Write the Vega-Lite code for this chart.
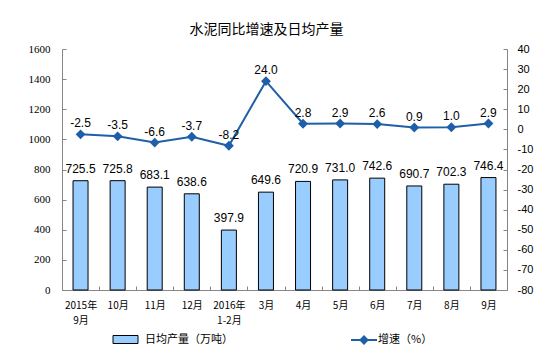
{
  "$schema": "https://vega.github.io/schema/vega-lite/v6.json",
  "autosize": "none",
  "width": 445,
  "height": 241,
  "padding": {"left": 62, "top": 49, "right": 42, "bottom": 73},
  "background": "white",
  "title": {"text": "水泥同比增速及日均产量", "font": "Noto Sans CJK SC", "fontSize": 14, "fontWeight": "normal", "color": "#000000", "anchor": "middle", "dx": -18, "offset": 6},
  "config": {"view": {"stroke": null}, "legend": {"padding": 0}},
  "data": {"values": [
    {"month": "2015年|9月", "production": 725.5, "growth": -2.5},
    {"month": "10月", "production": 725.8, "growth": -3.5},
    {"month": "11月", "production": 683.1, "growth": -6.6},
    {"month": "12月", "production": 638.6, "growth": -3.7},
    {"month": "2016年|1-2月", "production": 397.9, "growth": -8.2},
    {"month": "3月", "production": 649.6, "growth": 24.0},
    {"month": "4月", "production": 720.9, "growth": 2.8},
    {"month": "5月", "production": 731.0, "growth": 2.9},
    {"month": "6月", "production": 742.6, "growth": 2.6},
    {"month": "7月", "production": 690.7, "growth": 0.9},
    {"month": "8月", "production": 702.3, "growth": 1.0},
    {"month": "9月", "production": 746.4, "growth": 2.9}
  ]},
  "encoding": {
    "x": {"field": "month", "type": "nominal", "sort": null,
      "scale": {"paddingInner": 0, "paddingOuter": 0},
      "axis": {"title": null, "labelAngle": 0, "labelExpr": "split(datum.label, '|')", "labelFont": "Noto Sans CJK SC", "labelFontSize": 10, "labelColor": "#000000", "labelLineHeight": 15, "labelPadding": 14, "tickBand": "extent", "tickSize": -4, "domainColor": "#868686", "tickColor": "#868686", "grid": false}}
  },
  "layer": [
    {
      "encoding": {
        "y": {"field": "production", "type": "quantitative", "scale": {"domain": [0, 1600]},
          "axis": {"title": null, "values": [0,200,400,600,800,1000,1200,1400,1600], "labelExpr": "'' + datum.value", "grid": false, "labelFont": "Liberation Serif", "labelFontSize": 11, "labelColor": "#000000", "labelPadding": 16, "tickSize": -4, "domainColor": "#868686", "tickColor": "#868686"}}
      },
      "layer": [
        {
          "mark": {"type": "bar", "width": 15, "stroke": "#000000", "strokeWidth": 1},
          "encoding": {
            "fill": {"datum": "日均产量（万吨）", "type": "nominal", "scale": {"range": ["#99CCFF"]},
              "legend": {"title": null, "orient": "none", "legendX": 58, "legendY": 285, "symbolType": "M-2.5,-0.8H2.5V0.8H-2.5Z", "symbolSize": 100, "symbolStrokeColor": "#000000", "symbolStrokeWidth": 1, "symbolOpacity": 1, "labelFont": "Noto Sans CJK SC", "labelFontSize": 11, "labelColor": "#000000", "labelOffset": 14}}
          }
        },
        {
          "transform": [{"calculate": "format(datum.production, '.1f')", "as": "plabel"}],
          "mark": {"type": "text", "dy": -12, "font": "Liberation Sans", "fontSize": 12, "color": "#000000"},
          "encoding": {
            "text": {"field": "plabel", "type": "nominal"}
          }
        }
      ]
    },
    {
      "encoding": {
        "y": {"field": "growth", "type": "quantitative", "scale": {"domain": [-80, 40]},
          "axis": {"title": null, "orient": "right", "values": [-80,-70,-60,-50,-40,-30,-20,-10,0,10,20,30,40], "labelExpr": "'' + datum.value", "grid": false, "labelFont": "Liberation Sans", "labelFontSize": 11, "labelColor": "#000000", "labelPadding": 14, "tickSize": -4, "domainColor": "#868686", "tickColor": "#868686"}}
      },
      "layer": [
        {
          "mark": {"type": "line", "strokeWidth": 2, "point": {"shape": "diamond", "size": 50, "filled": true, "color": "#1F5FA8"}},
          "encoding": {
            "stroke": {"datum": "增速（%）", "type": "nominal", "scale": {"range": ["#1F5FA8"]},
              "legend": {"title": null, "orient": "none", "legendX": 296, "legendY": 285, "symbolType": "M-2.6,0H2.6M0,-0.7L0.7,0L0,0.7L-0.7,0Z", "symbolSize": 100, "symbolStrokeWidth": 2, "symbolFillColor": "#1F5FA8", "labelFont": "Noto Sans CJK SC", "labelFontSize": 11, "labelColor": "#000000", "labelOffset": 8}}
          }
        },
        {
          "transform": [{"calculate": "replace(format(datum.growth, '.1f'), '\u2212', '-')", "as": "glabel"}],
          "mark": {"type": "text", "dy": -11, "font": "Liberation Sans", "fontSize": 12, "color": "#000000"},
          "encoding": {
            "text": {"field": "glabel", "type": "nominal"}
          }
        }
      ]
    }
  ],
  "resolve": {"scale": {"y": "independent", "fill": "independent", "stroke": "independent"}}
}
